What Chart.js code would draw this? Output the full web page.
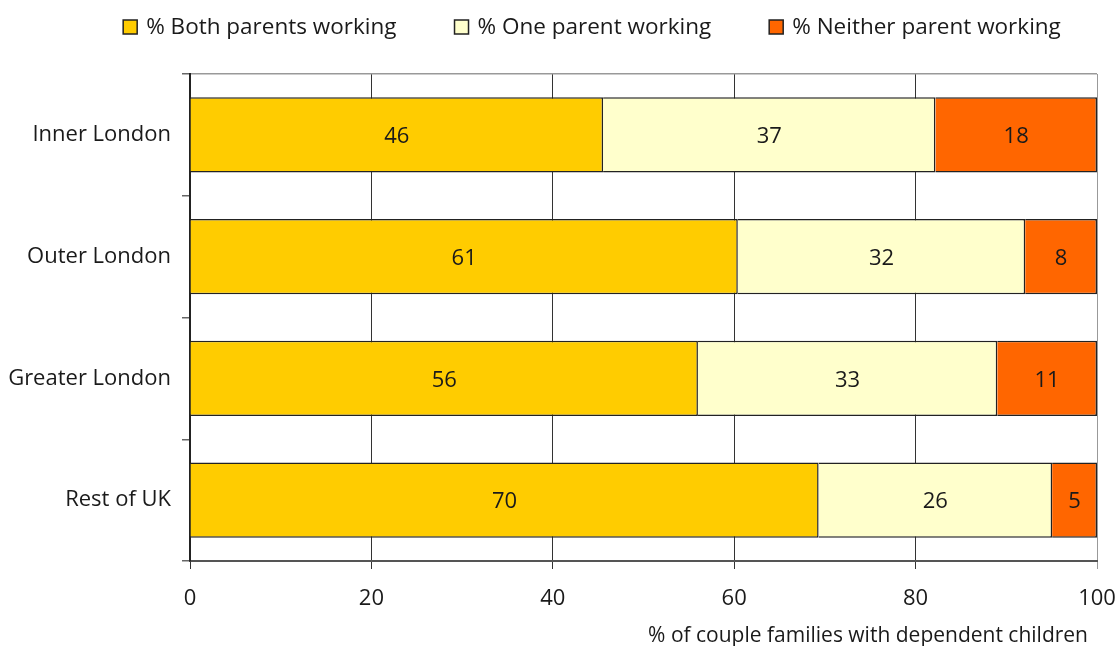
<!DOCTYPE html>
<html>
<head>
<meta charset="utf-8">
<script src="https://cdn.jsdelivr.net/npm/chart.js@4"></script>
<style>
  html, body { margin: 0; padding: 0; background: #fff; }
  #wrap { width: 1118px; height: 646px; }
</style>
</head>
<body>
<div id="wrap"><canvas id="chart"></canvas></div>
<script>
const regions = ['Inner London', 'Outer London', 'Greater London', 'Rest of UK'];
const bothWorking = [46, 61, 56, 70];
const oneWorking = [37, 32, 33, 26];
const neitherWorking = [18, 8, 11, 5];
const xTicks = [0, 20, 40, 60, 80, 100];

// rows are shares of all couple families, so scale each row to 100
const rowTotals = regions.map((r, i) => bothWorking[i] + oneWorking[i] + neitherWorking[i]);
const asShare = arr => arr.map((v, i) => v * 100 / rowTotals[i]);

const FONT = "'Open Sans', 'DejaVu Sans', sans-serif";
const TEXT = '#1a1a1a';

// value in the middle of each segment
const segmentLabels = {
    id: 'segmentLabels',
    afterDatasetsDraw(chart) {
        const ctx = chart.ctx;
        ctx.save();
        ctx.font = '22px ' + FONT;
        ctx.fillStyle = TEXT;
        ctx.textAlign = 'center';
        ctx.textBaseline = 'middle';
        chart.data.datasets.forEach((ds, di) => {
            chart.getDatasetMeta(di).data.forEach((bar, i) => {
                const mid = (bar.x + bar.base) / 2;
                ctx.fillText(String(ds.raw[i]), mid, bar.y + 2);
            });
        });
        ctx.restore();
    }
};

// one-row legend across the top, wider gaps than the built-in one allows
const topLegend = {
    id: 'topLegend',
    afterDraw(chart) {
        const ctx = chart.ctx;
        const box = 14, gapText = 9, gapItem = 58, centerX = 592, centerY = 27;
        ctx.save();
        ctx.font = '22.5px ' + FONT;
        const items = chart.data.datasets.map(ds => ({
            ds: ds, w: box + gapText + ctx.measureText(ds.label).width
        }));
        const total = items.reduce((s, it) => s + it.w, 0) + gapItem * (items.length - 1);
        let x = centerX - total / 2;
        items.forEach(it => {
            ctx.fillStyle = it.ds.backgroundColor;
            ctx.fillRect(x, centerY - box / 2, box, box);
            ctx.strokeStyle = '#222';
            ctx.lineWidth = 1.5;
            ctx.strokeRect(x, centerY - box / 2, box, box);
            ctx.fillStyle = TEXT;
            ctx.textAlign = 'left';
            ctx.textBaseline = 'middle';
            ctx.fillText(it.ds.label, x + box + gapText, centerY + 1);
            x += it.w + gapItem;
        });
        ctx.restore();
    }
};

// axis caption under the tick labels, right-aligned a little inside the plot edge
const axisCaption = {
    id: 'axisCaption',
    afterDraw(chart) {
        const ctx = chart.ctx;
        ctx.save();
        ctx.font = '21px ' + FONT;
        ctx.fillStyle = TEXT;
        ctx.textAlign = 'right';
        ctx.textBaseline = 'middle';
        ctx.fillText('% of couple families with dependent children', chart.chartArea.right - 9, 636);
        ctx.restore();
    }
};

new Chart(document.getElementById('chart'), {
    type: 'bar',
    data: {
        labels: regions,
        datasets: [
            { label: '% Both parents working', raw: bothWorking, data: asShare(bothWorking),
              backgroundColor: '#ffcc00', borderColor: '#222', borderWidth: 1.5 },
            { label: '% One parent working', raw: oneWorking, data: asShare(oneWorking),
              backgroundColor: '#ffffcc', borderColor: '#222', borderWidth: 1.5 },
            { label: '% Neither parent working', raw: neitherWorking, data: asShare(neitherWorking),
              backgroundColor: '#ff6600', borderColor: '#222', borderWidth: 1.5 }
        ]
    },
    options: {
        indexAxis: 'y',
        responsive: true,
        maintainAspectRatio: false,
        animation: false,
        layout: { padding: { left: 0, right: 0, top: 74, bottom: 0 } },
        datasets: { bar: { categoryPercentage: 1, barPercentage: 0.62 } },
        plugins: {
            legend: { display: false },
            tooltip: { enabled: false }
        },
        scales: {
            x: {
                stacked: true,
                min: 0,
                max: 100,
                afterBuildTicks: axis => { axis.ticks = xTicks.map(v => ({ value: v })); },
                afterFit: axis => {
                    axis.height = 85;
                    axis.paddingLeft = 0;
                    axis.paddingRight = 21;
                },
                ticks: { font: { family: FONT, size: 22 }, color: TEXT, padding: 17, maxRotation: 0 },
                grid: {
                    color: c => c.tick && c.tick.value === 100 ? '#999' : '#333',
                    tickColor: c => c.tick && c.tick.value === 100 ? '#999' : '#333',
                    tickLength: 8,
                    lineWidth: 1
                },
                border: { color: '#555', width: 2 }
            },
            y: {
                stacked: true,
                afterFit: axis => { axis.width = 190; },
                ticks: { font: { family: FONT, size: 22 }, color: TEXT, padding: 11 },
                grid: {
                    offset: true,
                    color: c => c.index === 0 ? '#999' : 'rgba(0,0,0,0)',
                    tickColor: '#666',
                    tickLength: 8,
                    lineWidth: 1.5
                },
                border: { color: '#222', width: 2 }
            }
        }
    },
    plugins: [segmentLabels, topLegend, axisCaption]
});
</script>
</body>
</html>
